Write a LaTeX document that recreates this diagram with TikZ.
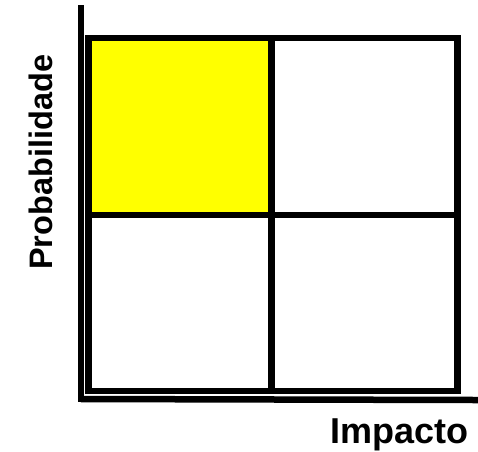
\documentclass[tikz,border=0pt]{standalone}
\usepackage{fontspec}
\setmainfont{Liberation Sans}
\usepackage{tikz}
\usetikzlibrary{positioning}
\definecolor{riskyellow}{RGB}{255, 255, 0}

\begin{document}
\begin{tikzpicture}[
  x=1pt, y=-1pt,
  axis/.style={line width=6.5pt, line cap=rect},
  grid/.style={line width=6.5pt},
  lbl/.style={font=\bfseries\fontsize{32.5}{32.5}\selectfont, inner sep=0pt}
]
  \useasboundingbox (0,0) rectangle (478,451);

  % quadrants
  \fill[riskyellow] (88.5,38) rectangle (271.5,215);
  \draw[grid] (88.5,38) rectangle (457.5,391);
  \draw[grid] (271.5,38) -- (271.5,391);
  \draw[grid] (88.5,215) -- (457.5,215);

  % axes
  \coordinate (top) at (81,8);
  \coordinate (origin) at (81,399);
  \coordinate (right) at (478,400);
  \draw[axis] (top) -- (origin);
  \draw[line width=6.5pt] (origin) -- (right);

  \node[lbl, rotate=90, anchor=base west] (prob) at (52,270) {Probabilidade};
  \node[lbl, anchor=base west, font=\bfseries\fontsize{36}{36}\selectfont] (impact) at (330,443) {Impacto};
\end{tikzpicture}
\end{document}
